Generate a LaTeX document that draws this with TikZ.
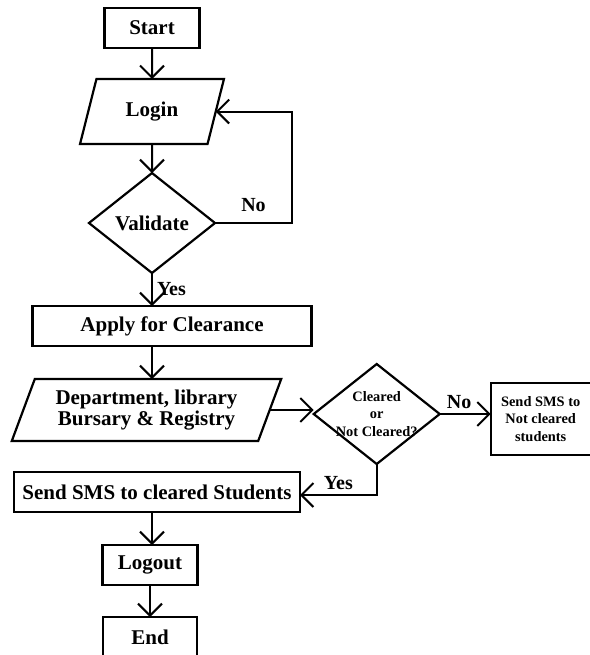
\documentclass[tikz,border=0pt]{standalone}
\usepackage{fontspec}
\setmainfont{Liberation Serif}
\usetikzlibrary{positioning,shapes.geometric,arrows.meta}

\begin{document}
\begin{tikzpicture}

      \tikzstyle{block}    = [rectangle, draw, line width=2.2pt, minimum height=40pt, inner sep=0pt, outer sep=0pt, font=\bigtext]
      \tikzstyle{io}       = [trapezium, trapezium stretches=true, draw, line width=2.2pt, inner sep=0pt, outer sep=0pt, font=\bigtext]
      \tikzstyle{decision} = [diamond, draw, line width=2.2pt, minimum width=126pt, minimum height=100pt, inner sep=0pt, outer sep=0pt]

      \tikzstyle{connector} = [line width=2pt, -{Straight Barb[length=12pt, width=24pt, line width=2pt]}]
      \tikzstyle{answer}    = [font=\midtext, inner sep=1pt]

      \newcommand{\bigtext}[0]{\fontsize{21}{24}\selectfont\bfseries}
      \newcommand{\midtext}[0]{\fontsize{20}{22}\selectfont\bfseries}
      \newcommand{\smalltext}[0]{\fontsize{14.4}{17.5}\selectfont\bfseries}
      \newcommand{\stepsep}[0]{31pt}

      \useasboundingbox (0pt,0pt) rectangle (589pt,-655pt);

      \node [block, minimum width=95pt] at (152pt,-28pt)                                              (start)    {Start};
      \node [io, trapezium left angle=68, trapezium right angle=112, minimum width=145pt, minimum height=65pt,
             below = \stepsep of start]                                                               (login)    {Login};
      \node [decision, below = 29pt of login]                                                         (validate) {};
      \node [font=\bigtext] at (validate)                                                             (validtxt) {Validate};
      \node [block, minimum width=279pt, below = 33pt of validate, xshift=20pt]                        (apply)    {Apply for Clearance};
      \node [io, trapezium left angle=65, trapezium right angle=115, minimum width=270pt, minimum height=62pt,
             align=center, below = 33pt of apply, xshift=-25.5pt]                                     (dept)     {Department, library\\[-3pt]Bursary \& Registry};
      \node [decision, right = 44pt of dept.east, anchor=west, yshift=-4pt]                            (cleared)  {};
      \node [font=\smalltext, align=center] at (cleared)                                              (cleartxt) {Cleared\\or\\Not Cleared?};
      \node [block, minimum width=100pt, minimum height=72pt, font=\smalltext, align=center,
             right = 51pt of cleared, yshift=-5pt]                                                    (smsnot)   {Send SMS to\\Not cleared\\students};
      \node [block, minimum width=286pt, below = \stepsep of dept, xshift=10.5pt]                      (smsyes)   {Send SMS to cleared Students};
      \node [block, minimum width=95pt, below = 33pt of smsyes, xshift=-7pt]                           (logout)   {Logout};
      \node [block, minimum width=94pt, below = 32pt of logout]                                       (end)      {End};

      \draw [connector] (start)          -- (login);
      \draw [connector] (login)          -- (validate);
      \draw [connector] (validate.east)  -- ++(77pt,0) node [answer, midway, above=9pt] {No} |- (login.east);
      \draw [connector] (validate.south) -- (validate.south |- apply.north) node [answer, midway, right=3pt] {Yes};
      \draw [connector] (validate.south |- apply.south) -- (validate.south |- dept.north);
      \draw [connector] (dept.east)      -- (dept.east -| cleared.west);
      \draw [connector] (cleared.east)   -- (cleared.east -| smsnot.west) node [answer, pos=0.38, above=3pt] {No};
      \draw [connector] (cleared.south)  -- ++(0,-31pt) coordinate (yesbend) -- (yesbend -| smsyes.east) node [answer, midway, above=3pt] {Yes};
      \draw [connector] (validate.south |- smsyes.south) -- (validate.south |- logout.north);
      \draw [connector] (logout)         -- (end);

    \end{tikzpicture}
\end{document}
